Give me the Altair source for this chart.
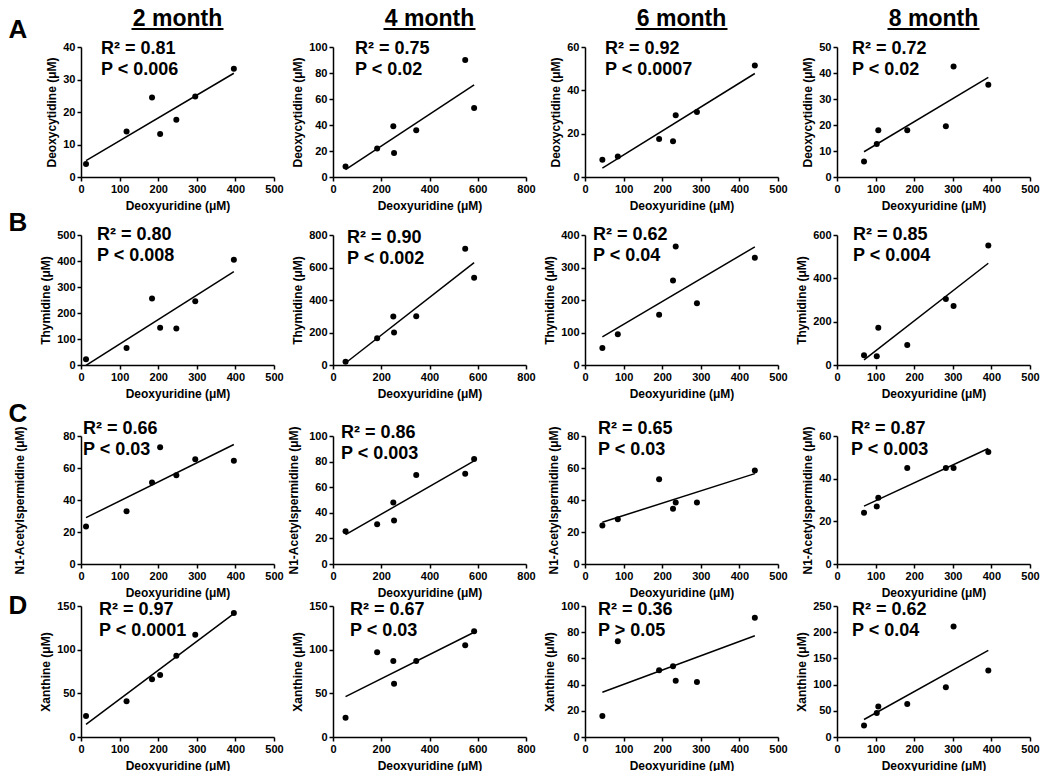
import altair as alt
import pandas as pd

FONT = "Liberation Sans"

MONTHS = ["2 month", "4 month", "6 month", "8 month"]
ROW_LETTERS = ["A", "B", "C", "D"]
Y_TITLES = ["Deoxycytidine (μM)", "Thymidine (μM)", "N1-Acetylspermidine (μM)", "Xanthine (μM)"]
X_TITLE = "Deoxyuridine (μM)"

# Deoxyuridine (x) per month
dU_2m = [13, 118, 184, 205, 247, 296, 396]
dU_4m = [52, 183, 250, 253, 345, 548, 585]
dU_6m = [45, 85, 192, 228, 235, 290, 440]
dU_8m = [70, 103, 107, 182, 282, 302, 392]
X_VALUES = [dU_2m, dU_4m, dU_6m, dU_8m]

# Deoxycytidine
dC = [[4, 14, 24.5, 13.2, 17.6, 24.8, 33.3],
      [8, 22, 39, 18.5, 36, 90, 53],
      [8, 9.5, 17.5, 16.5, 28.5, 30, 51.5],
      [6, 12.7, 18, 18, 19.5, 42.5, 35.5]]
# Thymidine
dT = [[22, 65, 256, 143, 140, 245, 405],
      [20, 165, 298, 200, 300, 715, 537],
      [52, 95, 155, 260, 365, 190, 330],
      [45, 40, 172, 92, 305, 272, 552]]
# N1-Acetylspermidine
acspd = [[23.5, 33, 51, 73, 55.5, 65.5, 64.5],
         [25.5, 31, 48, 34, 69.5, 70.5, 82],
         [24, 28, 53, 34.5, 38.5, 38.5, 58.5],
         [24, 27, 31, 45, 45, 45, 52.5]]
# Xanthine
xan = [[24, 41, 66, 71, 93, 117, 142],
       [22, 97, 87, 61, 87, 105, 121],
       [16, 73, 51, 54, 43, 42, 91],
       [22, 46, 58, 63, 95, 211, 127]]
Y_DATA = [dC, dT, acspd, xan]

X_TICKS = [[0, 100, 200, 300, 400, 500], [0, 200, 400, 600, 800],
           [0, 100, 200, 300, 400, 500], [0, 100, 200, 300, 400, 500]]
Y_TICKS = [
    [[0, 10, 20, 30, 40], [0, 20, 40, 60, 80, 100], [0, 20, 40, 60], [0, 10, 20, 30, 40, 50]],
    [[0, 100, 200, 300, 400, 500], [0, 200, 400, 600, 800], [0, 100, 200, 300, 400], [0, 200, 400, 600]],
    [[0, 20, 40, 60, 80], [0, 20, 40, 60, 80, 100], [0, 20, 40, 60, 80], [0, 20, 40, 60]],
    [[0, 50, 100, 150], [0, 50, 100, 150], [0, 20, 40, 60, 80, 100], [0, 50, 100, 150, 200, 250]],
]

R2_LABELS = [["R² = 0.81", "R² = 0.75", "R² = 0.92", "R² = 0.72"],
             ["R² = 0.80", "R² = 0.90", "R² = 0.62", "R² = 0.85"],
             ["R² = 0.66", "R² = 0.86", "R² = 0.65", "R² = 0.87"],
             ["R² = 0.97", "R² = 0.67", "R² = 0.36", "R² = 0.62"]]
P_LABELS = [["P < 0.006", "P < 0.02", "P < 0.0007", "P < 0.02"],
            ["P < 0.008", "P < 0.002", "P < 0.04", "P < 0.004"],
            ["P < 0.03", "P < 0.003", "P < 0.03", "P < 0.003"],
            ["P < 0.0001", "P < 0.03", "P > 0.05", "P < 0.04"]]

# layout (pixels)
W = 193
COL_SPACING = 59
ROW_H = [130, 130, 128, 131]
ROW_TOP_EXT = [38, 49, 62, 36]      # invisible anchor above each row's plot
ROW_BOT_EXT = [45, 45, 42, 0]       # invisible anchor below each row's plot
ROW_SPACING = -36
LEFT_EXT = 73
TEXT_POS = [[(20, 2), (22, 2), (20, 2), (15, 2)],
            [(16, 0), (14, 3), (8, 0), (16, 0)],
            [(2, -7), (8, -3), (13, -7), (14, -7)],
            [(18, 4), (17, 4), (13, 4), (15, 4)]]
LETTER_X = -63
LETTER_DY = [-17, -12, -22, 0]
Y_TITLE_PAD = [[4, 4, 4, 4], [4, 4, 4, 4], [36, 8, 6, 4], [4, 4, 4, 4]]


def panel(r, c):
    H = ROW_H[r]
    df = pd.DataFrame({"x": X_VALUES[c], "y": Y_DATA[r][c]})
    xs = alt.Scale(domain=[0, X_TICKS[c][-1]], nice=False)
    ys = alt.Scale(domain=[0, Y_TICKS[r][c][-1]], nice=False)
    xenc = alt.X("x:Q", scale=xs,
                 axis=alt.Axis(values=X_TICKS[c], title=X_TITLE, format="d"))
    yenc = alt.Y("y:Q", scale=ys,
                 axis=alt.Axis(values=Y_TICKS[r][c], title=Y_TITLES[r], format="d",
                               titlePadding=Y_TITLE_PAD[r][c]))
    pts = alt.Chart(df).mark_circle(size=36, color="black", opacity=1).encode(x=xenc, y=yenc)
    fit = (alt.Chart(df).transform_regression("x", "y")
           .mark_line(color="black", strokeWidth=1.5, clip=True)
           .encode(x=xenc, y=yenc))
    dx, dy = TEXT_POS[r][c]
    lab = pd.DataFrame({"t": [0]})
    t1 = alt.Chart(lab).mark_text(align="left", baseline="middle", fontSize=18, fontWeight="bold",
                                  font=FONT, color="black").encode(
        x=alt.value(dx), y=alt.value(dy), text=alt.value(R2_LABELS[r][c]))
    t2 = alt.Chart(lab).mark_text(align="left", baseline="middle", fontSize=18, fontWeight="bold",
                                  font=FONT, color="black").encode(
        x=alt.value(dx), y=alt.value(dy + 21), text=alt.value(P_LABELS[r][c]))
    layers = [fit, pts, t1, t2]
    if r == 0:
        layers.append(alt.Chart(lab).mark_text(align="center", baseline="alphabetic", fontSize=23,
                                               fontWeight="bold", font=FONT, color="black").encode(
            x=alt.value(W / 2), y=alt.value(-21), text=alt.value(MONTHS[c])))
        layers.append(alt.Chart(lab).mark_rule(color="black", strokeWidth=2).encode(
            x=alt.value(W / 2 - 46), x2=alt.value(W / 2 + 46), y=alt.value(-18)))
    if c == 0:
        layers.append(alt.Chart(lab).mark_text(align="center", baseline="middle", fontSize=26,
                                               fontWeight="bold", font=FONT, color="black").encode(
            x=alt.value(LETTER_X), y=alt.value(LETTER_DY[r]), text=alt.value(ROW_LETTERS[r])))
        # invisible anchor that fixes the row's extent
        layers.append(alt.Chart(lab).mark_rule(strokeOpacity=0, color="white").encode(
            x=alt.value(-LEFT_EXT), y=alt.value(-ROW_TOP_EXT[r]), y2=alt.value(H + ROW_BOT_EXT[r])))
    return alt.layer(*layers).properties(width=W, height=H)


rows = [alt.hconcat(*[panel(r, c) for c in range(4)], spacing=COL_SPACING, bounds="flush")
        for r in range(4)]
chart = (alt.vconcat(*rows, spacing=ROW_SPACING)
         .properties(padding={"left": 0, "top": 0, "right": 0, "bottom": 0})
         .configure_view(stroke=None)
         .configure_axis(grid=False, domainColor="black", domainWidth=1.5, tickColor="black",
                         tickWidth=1.5, tickSize=4, labelColor="black", labelFont=FONT,
                         labelFontSize=11, labelFontWeight="bold", labelPadding=2,
                         labelOverlap=False, labelFlush=False,
                         titleFont=FONT, titleFontSize=12, titleFontWeight="bold",
                         titleColor="black")
         .configure_axisX(titlePadding=6))

chart.save("out.html", embed_options={"renderer": "svg", "actions": False})
